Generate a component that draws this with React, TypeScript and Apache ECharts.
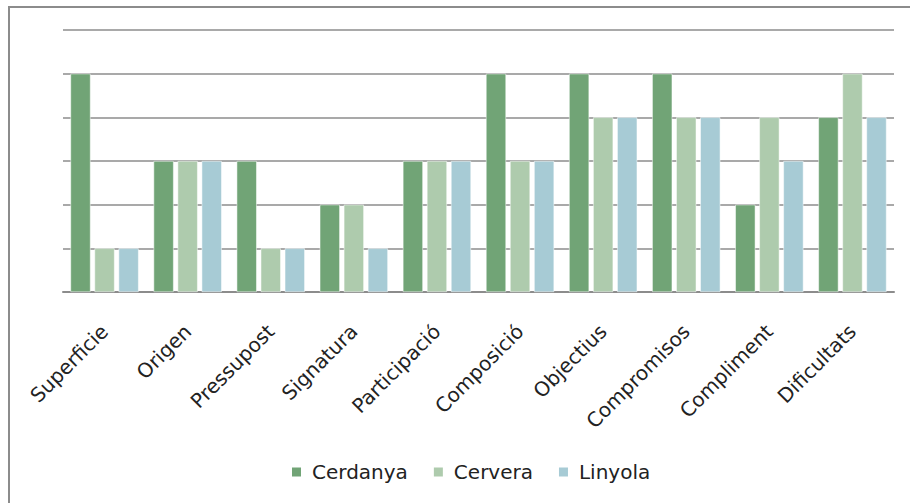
import React, { useEffect, useRef } from "react";
import * as echarts from "echarts";

const categories = ["Superficie", "Origen", "Pressupost", "Signatura", "Participació", "Composició", "Objectius", "Compromisos", "Compliment", "Dificultats"];
const cerdanya = [5, 3, 3, 2, 3, 5, 5, 5, 2, 4];
const cervera = [1, 3, 1, 2, 3, 3, 4, 4, 4, 5];
const linyola = [1, 3, 1, 1, 3, 3, 4, 4, 3, 4];
const seriesNames = ["Cerdanya", "Cervera", "Linyola"];
const colors = ["#71A476", "#AECBAD", "#A7CBD5"];

export default function App() {
  const ref = useRef<HTMLDivElement>(null);
  useEffect(() => {
    if (!ref.current) return;
    const chart = echarts.init(ref.current, null, { renderer: "svg" });
    const font = "'DejaVu Sans', sans-serif";
    const data = [cerdanya, cervera, linyola];
    chart.setOption({
      animation: false,
      backgroundColor: "#ffffff",
      graphic: [
        {
          type: "rect",
          shape: { x: 9, y: 7, width: 940, height: 540 },
          style: { fill: "none", stroke: "#8c8c8c", lineWidth: 2 },
          silent: true,
        },
      ],
      grid: { left: 63, right: 16, top: 30, bottom: 211, containLabel: false },
      legend: {
        data: seriesNames,
        top: 457,
        left: 285,
        icon: "rect",
        itemWidth: 11,
        itemHeight: 11,
        itemGap: 24,
        textStyle: { fontFamily: font, fontSize: 20, color: "#222", padding: [0, 0, 0, 5] },
      },
      xAxis: {
        type: "category",
        data: categories,
        axisLine: { show: true, lineStyle: { color: "#8c8c8c", width: 2 } },
        axisTick: { show: false },
        axisLabel: {
          rotate: 45,
          interval: 0,
          fontFamily: font,
          fontSize: 20,
          color: "#222",
          margin: 36,
        },
      },
      yAxis: {
        type: "value",
        min: 0,
        max: 6,
        interval: 1,
        axisLabel: { show: false },
        axisLine: { show: false },
        axisTick: { show: false },
        splitLine: { show: true, lineStyle: { color: "#8c8c8c", width: 1.5 } },
      },
      series: seriesNames.map((name, i) => ({
        name,
        type: "bar",
        data: data[i],
        barGap: "20%",
        barCategoryGap: "18%",
        itemStyle: { color: colors[i], borderColor: "#ffffff", borderWidth: 0.5 },
      })),
    });
    return () => chart.dispose();
  }, []);
  return <div ref={ref} style={{ position: "absolute", left: 0, top: 0, width: 910, height: 503 }} />;
}
